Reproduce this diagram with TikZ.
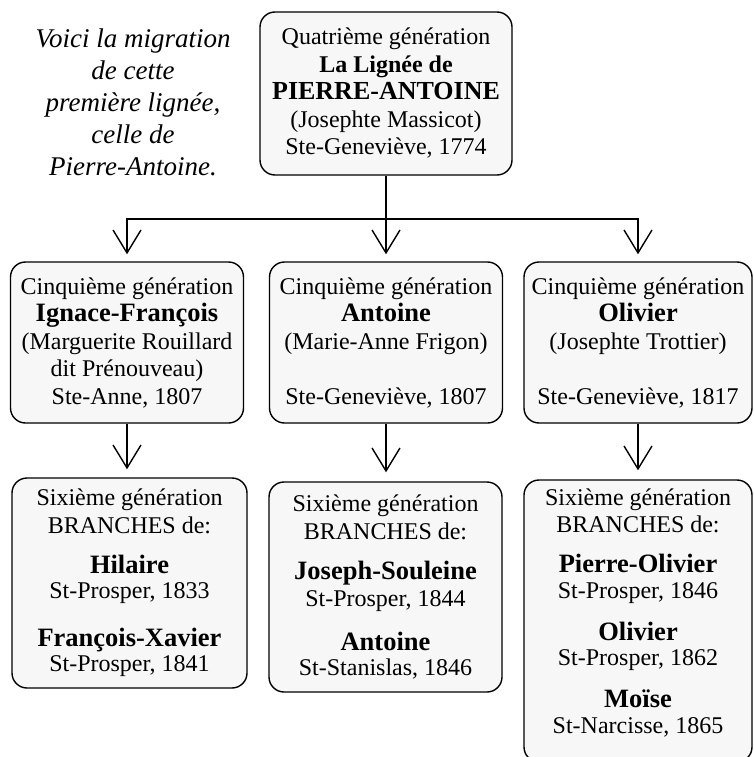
\documentclass[tikz,border=0pt]{standalone}
\usepackage{fontspec}
\setmainfont{Liberation Serif}
\usetikzlibrary{arrows.meta}
\definecolor{boxfill}{RGB}{247,247,247}
\newcommand{\bname}[1]{{\fontsize{26.5}{27.5}\selectfont\bfseries #1}}
\begin{document}
\begin{tikzpicture}[x=1pt,y=-1pt,
  box/.style={draw, line width=1.4pt, rounded corners=15pt, fill=boxfill,
    align=center, inner sep=0pt, font=\fontsize{24}{27.5}\selectfont},
  link/.style={line width=1.4pt},
  arr/.style={line width=1.4pt, -{Straight Barb[length=23pt,width=28pt]}},
]
\useasboundingbox (0,0) rectangle (753,757);

\node[align=center, inner sep=0pt, font=\fontsize{27}{32}\selectfont\itshape] (intro) at (133,102)
  {Voici la migration\\ de cette\\ première lignée,\\ celle de\\ Pierre-Antoine.};

\node[box, minimum width=252pt, minimum height=163pt] (top) at (386,93.5)
  {Quatrième génération\\ \textbf{La Lignée de}\\
   {\fontsize{26}{27.5}\selectfont\bfseries PIERRE-ANTOINE}\\
   (Josephte Massicot)\\ Ste-Geneviève, 1774};

\node[box, minimum width=233pt, minimum height=161pt] (c1) at (127,342.5)
  {Cinquième génération\\ \bname{Ignace-François}\\ (Marguerite Rouillard\\
   dit Prénouveau)\\ Ste-Anne, 1807};
\node[box, minimum width=233pt, minimum height=161pt] (c2) at (386,342.5)
  {Cinquième génération\\ \bname{Antoine}\\ (Marie-Anne Frigon)\\[27.5pt]
   Ste-Geneviève, 1807};
\node[box, minimum width=228pt, minimum height=161pt] (c3) at (638,342.5)
  {Cinquième génération\\ \bname{Olivier}\\ (Josephte Trottier)\\[27.5pt]
   Ste-Geneviève, 1817};

\node[box, minimum width=235pt, minimum height=210pt] (b1) at (129.5,583)
  {Sixième génération\\ BRANCHES de:\\[12.5pt]
   \bname{Hilaire}\\[-2pt] St-Prosper, 1833\\[20pt]
   \bname{François-Xavier}\\[-2pt] St-Prosper, 1841};
\node[box, minimum width=233pt, minimum height=210pt] (b2) at (385.5,587)
  {Sixième génération\\ BRANCHES de:\\[13pt]
   \bname{Joseph-Souleine}\\[-1pt] St-Prosper, 1844\\[17pt]
   \bname{Antoine}\\[-3pt] St-Stanislas, 1846};
\node[box, minimum width=228pt, minimum height=282pt] (b3) at (638,621)
  {Sixième génération\\ BRANCHES de:\\[12.5pt]
   \bname{Pierre-Olivier}\\[-2pt] St-Prosper, 1846\\[14.5pt]
   \bname{Olivier}\\[-2pt] St-Prosper, 1862\\[14.5pt]
   \bname{Moïse}\\[-2pt] St-Narcisse, 1865\\[-7pt]\mbox{}};

\coordinate (bar) at (386,219);
\draw[link] (top.south) -- (bar);
\draw[arr, shorten >=7pt] (bar) -| (c1.north);
\draw[arr, shorten >=7pt] (bar) -- (c2.north);
\draw[arr, shorten >=7pt] (bar) -| (c3.north);

\draw[arr, shorten >=8pt] (c1.south) -- (c1.south |- b1.north);
\draw[arr, shorten >=9pt] (c2.south) -- (c2.south |- b2.north);
\draw[arr, shorten >=9pt] (c3.south) -- (c3.south |- b3.north);
\end{tikzpicture}
\end{document}
